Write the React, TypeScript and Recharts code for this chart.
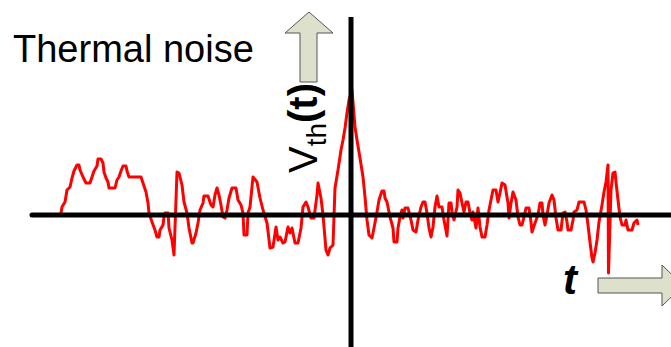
import { LineChart, Line, XAxis, YAxis, ReferenceLine } from 'recharts';

// time (relative to the origin) and thermal-noise voltage
const times = [
  -290, -289, -286, -284, -281, -279, -277, -274, -272, -271, -268, -265, -261, -259, -257, -254, -253, -250,
  -248, -247, -245, -243, -242, -236, -234, -232, -230, -228, -225, -224, -222, -210, -208, -205, -203, -202,
  -199, -196, -194, -192, -191, -188, -187, -186, -183, -182, -179, -177, -174, -172, -169, -167, -164, -162,
  -159, -158, -155, -153, -151, -148, -147, -143, -140, -138, -136, -134, -132, -130, -128, -126, -124, -122,
  -119, -115, -113, -110, -108, -107, -104, -103, -101, -98, -94, -91, -88, -84, -81, -78, -75, -73, -71, -68,
  -66, -63, -61, -59, -56, -53, -50, -48, -45, -43, -40, -37, -34, -33, -30, -28, -25, -23, -21, -18, -16, -13,
  -10, -8, -6, -4, -2, 1, 4, 6, 9, 12, 14, 16, 18, 21, 23, 26, 28, 31, 33, 34, 36, 39, 42, 43, 46, 47, 49, 51,
  52, 54, 57, 60, 62, 65, 67, 70, 72, 74, 76, 78, 80, 82, 84, 86, 88, 91, 93, 96, 98, 100, 101, 103, 106, 107,
  109, 111, 113, 115, 117, 119, 121, 122, 125, 127, 129, 131, 134, 136, 138, 140, 142, 145, 147, 149, 151, 154,
  157, 158, 160, 162, 165, 167, 169, 171, 173, 175, 178, 180, 181, 184, 187, 189, 191, 192, 194, 196, 198, 201,
  203, 205, 207, 210, 212, 214, 216, 217, 220, 222, 223, 226, 228, 233, 235, 237, 239, 241, 242, 244, 246, 248,
  251, 253, 255, 257, 257.5, 260, 262, 264, 265, 267, 269, 271, 274, 275, 277, 281, 283, 286, 287,
];
const volts = [
  2, 8, 13, 25, 28, 37, 44, 50, 50, 45, 38, 32, 32, 38, 44, 49, 56, 56,
  52, 43, 37, 33, 27, 27, 35, 38, 44, 49, 49, 44, 38, 38, 32, 23, 12, 2,
  -7, -15, -22, -22, -15, -10, -2, 2, 2, -13, -25, -40, 43, 42, 30, 13, 2, -13,
  -28, -28, -18, -8, 5, 12, 19, 19, 10, 8, 20, 27, 20, 10, -2, -3, 5, 17,
  27, 27, 15, 10, 2, -20, -20, 2, 8, 38, 33, 17, 5, -8, -33, -32, -12, -25, -22, -28,
  -27, -12, -18, -13, -28, -28, -13, 8, 13, 8, -3, -3, 20, 32, 17, 0, -35, -40, -33, -30, 27, 45,
  65, 75, 87, 102, 115, 125, 88, 75, 57, 38, 18, -5, -20, -23, -13, 3, 15, 24, 24, 17, 13, -2, -13, -27, -27, -13, -2, 5,
  -3, 7, 7, -5, -15, -17, -5, 8, 13, 13, 2, -13, -22, -12, 8, 19, 8, 8, -5, -21, 12, 12, 3, -5, 8, 25,
  22, 12, 3, 13, 13, 2, -5, 3, -13, 7, -12, -22, -22, -10, 5, 15, 25, 25, 13, 22, 32, 30,
  12, -3, 12, 23, 15, -2, -10, -10, -2, 7, 7, -7, -17, -8, 0, 12, 12, 0, -10, 0, 12, 20,
  15, -3, -15, -15, 2, 3, -7, -15, -15, -5, 3, 5, 13, 13, 5, -10, -27, -43, -47, -38, -25, -7,
  10, 23, 33, 50, -58, 25, 42, 43, 33, 15, -2, -10, -10, -5, -15, -15, -8, -5, -10,
];

const data = times.map((t, i) => ({ t, v: volts[i] }));

const arrowFill = '#dde1cc';
const arrowStroke = '#555';

export default function App() {
  return (
    <div style={{ position: 'absolute', left: 0, top: 0, width: 671, height: 347, background: '#fff' }}>
      <LineChart width={671} height={347} data={data} margin={{ top: 0, right: 0, bottom: 0, left: 0 }}>
        <XAxis type="number" dataKey="t" domain={[-351, 320]} allowDataOverflow hide />
        <YAxis type="number" domain={[-132, 215]} allowDataOverflow hide />
        <Line
          type="linear"
          dataKey="v"
          stroke="#ff0000"
          strokeWidth={3}
          strokeLinejoin="round"
          dot={false}
          activeDot={false}
          isAnimationActive={false}
        />
        <ReferenceLine
          segment={[{ x: -319, y: 0 }, { x: 320, y: 0 }]}
          stroke="#000"
          strokeWidth={5}
          strokeLinecap="round"
          ifOverflow="visible"
        />
        <ReferenceLine
          segment={[{ x: 0, y: 198 }, { x: 0, y: -132 }]}
          stroke="#000"
          strokeWidth={5}
          ifOverflow="visible"
        />
      </LineChart>
      <svg
        width={671}
        height={347}
        style={{ position: 'absolute', left: 0, top: 0, pointerEvents: 'none' }}
      >
        <text x={13} y={62} fontFamily="'Liberation Sans', Arial, sans-serif" fontSize={38} fill="#000">
          Thermal noise
        </text>
        <polygon
          points="300,82 317,82 317,33 333,33 309,12 285,33 300,33"
          fill={arrowFill}
          stroke={arrowStroke}
          strokeWidth={1}
        />
        <text
          transform="translate(317,173) rotate(-90)"
          fontFamily="'Liberation Sans', Arial, sans-serif"
          fontSize={40}
          fill="#000"
        >
          V
          <tspan fontSize={28} dy={9}>th</tspan>
          <tspan dy={-9} fontWeight="bold">(t)</tspan>
        </text>
        <text
          x={563}
          y={294}
          fontFamily="'Liberation Sans', Arial, sans-serif"
          fontSize={42}
          fontWeight="bold"
          fontStyle="italic"
          fill="#000"
        >
          t
        </text>
        <polygon
          points="598,278 662,278 662,265 683,285.5 662,306 662,293 598,293"
          fill={arrowFill}
          stroke={arrowStroke}
          strokeWidth={1}
        />
      </svg>
    </div>
  );
}
